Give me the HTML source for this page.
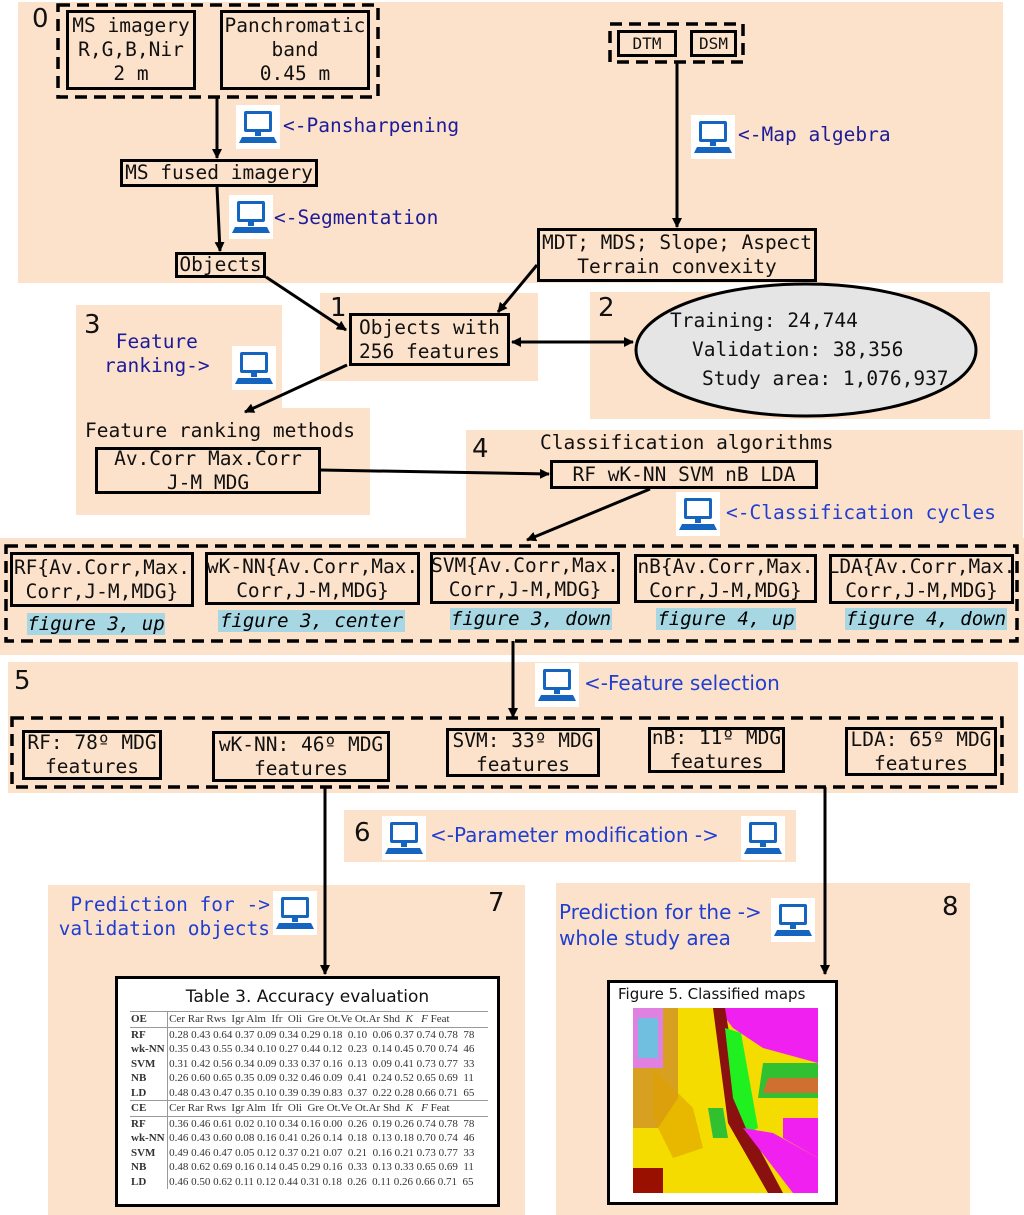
<!DOCTYPE html>
<html><head><meta charset="utf-8"><style>
body{margin:0;width:1024px;height:1215px;position:relative;background:#fff;font-family:"DejaVu Sans Mono","Liberation Mono",monospace;overflow:hidden}
.r{position:absolute;background:#fde2cb}
.b{position:absolute;border:3px solid #000;box-sizing:border-box;display:flex;align-items:center;justify-content:center;text-align:center;font-size:19.5px;line-height:24px;color:#111;background:#fde2cb;white-space:nowrap}
.t{position:absolute;font-size:19.5px;line-height:24px;white-space:nowrap;color:#111}
.n{position:absolute;font-family:"DejaVu Sans",sans-serif;font-size:26px;color:#111}
.bl{position:absolute;background:#a8d7e4;font-style:italic;font-size:19px;line-height:22px;text-align:center;white-space:nowrap}
.nv{color:#1c1c9a}
.sb{font-family:"DejaVu Sans",sans-serif;color:#1f3fd0;font-size:20px}
table{border-collapse:collapse;font-family:"Liberation Serif",serif;font-size:11px;color:#333}
td{padding:0 1px;line-height:14.5px;white-space:nowrap}
</style></head><body>
<div class="r" style="left:18px;top:2px;width:985px;height:281px"></div>
<div class="r" style="left:320px;top:293px;width:218px;height:88px"></div>
<div class="r" style="left:590px;top:292px;width:400px;height:127px"></div>
<div class="r" style="left:76px;top:305px;width:206px;height:210px"></div>
<div class="r" style="left:76px;top:408px;width:294px;height:107px"></div>
<div class="r" style="left:466px;top:430px;width:557px;height:112px"></div>
<div class="r" style="left:0;top:538px;width:1024px;height:117px"></div>
<div class="r" style="left:8px;top:662px;width:1010px;height:131px"></div>
<div class="r" style="left:344px;top:810px;width:452px;height:52px"></div>
<div class="r" style="left:48px;top:885px;width:477px;height:330px"></div>
<div class="r" style="left:556px;top:883px;width:414px;height:332px"></div>

<div class="n" style="left:32px;top:4px">0</div>
<div class="n" style="left:330px;top:293px">1</div>
<div class="n" style="left:598px;top:293px">2</div>
<div class="n" style="left:84px;top:310px">3</div>
<div class="n" style="left:472px;top:434px">4</div>
<div class="n" style="left:14px;top:666px">5</div>
<div class="n" style="left:354px;top:818px">6</div>
<div class="n" style="left:488px;top:888px">7</div>
<div class="n" style="left:942px;top:892px">8</div>

<div class="b" style="left:66px;top:10px;width:130px;height:80px">MS imagery<br>R,G,B,Nir<br>2 m</div>
<div class="b" style="left:220px;top:10px;width:150px;height:80px">Panchromatic<br>band<br>0.45 m</div>
<div class="b" style="left:617px;top:30px;width:60px;height:27px;font-size:16px">DTM</div>
<div class="b" style="left:690px;top:30px;width:47px;height:27px;font-size:16px">DSM</div>
<div class="b" style="left:120px;top:159px;width:198px;height:28px">MS fused imagery</div>
<div class="b" style="left:175px;top:252px;width:91px;height:26px">Objects</div>
<div class="b" style="left:537px;top:228px;width:280px;height:54px">MDT; MDS; Slope; Aspect<br>Terrain convexity</div>
<div class="b" style="left:349px;top:313px;width:161px;height:53px">Objects with<br>256 features</div>
<div class="t" style="left:85px;top:419px">Feature ranking methods</div>
<div class="b" style="left:95px;top:447px;width:226px;height:47px">Av.Corr Max.Corr<br>J-M MDG</div>
<div class="t" style="left:540px;top:431px">Classification algorithms</div>
<div class="b" style="left:550px;top:460px;width:268px;height:29px">RF wK-NN SVM nB LDA</div>

<div class="b" style="left:10px;top:552px;width:184px;height:55px">RF{Av.Corr,Max.<br>Corr,J-M,MDG}</div>
<div class="b" style="left:205px;top:552px;width:215px;height:53px">wK-NN{Av.Corr,Max.<br>Corr,J-M,MDG}</div>
<div class="b" style="left:430px;top:552px;width:190px;height:52px">SVM{Av.Corr,Max.<br>Corr,J-M,MDG}</div>
<div class="b" style="left:634px;top:554px;width:183px;height:49px">nB{Av.Corr,Max.<br>Corr,J-M,MDG}</div>
<div class="b" style="left:829px;top:554px;width:185px;height:50px">LDA{Av.Corr,Max.<br>Corr,J-M,MDG}</div>
<div class="bl" style="left:27px;top:613px;width:138px">figure 3, up</div>
<div class="bl" style="left:218px;top:610px;width:187px">figure 3, center</div>
<div class="bl" style="left:450px;top:608px;width:162px">figure 3, down</div>
<div class="bl" style="left:656px;top:608px;width:140px">figure 4, up</div>
<div class="bl" style="left:845px;top:608px;width:162px">figure 4, down</div>

<div class="b" style="left:22px;top:730px;width:140px;height:50px">RF: 78º MDG<br>features</div>
<div class="b" style="left:212px;top:731px;width:178px;height:51px">wK-NN: 46º MDG<br>features</div>
<div class="b" style="left:446px;top:728px;width:154px;height:49px">SVM: 33º MDG<br>features</div>
<div class="b" style="left:648px;top:727px;width:137px;height:46px">nB: 11º MDG<br>features</div>
<div class="b" style="left:845px;top:727px;width:152px;height:49px">LDA: 65º MDG<br>features</div>

<svg style="position:absolute;left:0;top:0" width="1024" height="1215">
<defs><marker id="a" markerWidth="10" markerHeight="10" refX="9" refY="5" orient="auto" markerUnits="userSpaceOnUse"><path d="M0,0L10,5L0,10z" fill="#000"/></marker>
<marker id="s" markerWidth="10" markerHeight="10" refX="1" refY="5" orient="auto" markerUnits="userSpaceOnUse"><path d="M10,0L0,5L10,10z" fill="#000"/></marker>
<g id="ic"><rect width="44" height="44" fill="#fff"/><rect x="8" y="6" width="28" height="21" rx="2" fill="#1464c0"/><rect x="11" y="9" width="22" height="15" fill="#fff"/><rect x="19" y="27" width="6" height="4" fill="#1464c0"/><path d="M6,32H38L41,38H3z" fill="#1464c0"/></g></defs>
<g fill="none" stroke="#000" stroke-width="3.5" stroke-dasharray="12,7">
<rect x="58" y="5" width="320" height="92"/>
<rect x="610" y="24" width="133" height="38"/>
<rect x="6" y="546" width="1011" height="95"/>
<rect x="12" y="718" width="990" height="69"/>
</g>
<g stroke="#000" stroke-width="3" fill="none" marker-end="url(#a)">
<line x1="217" y1="97" x2="217" y2="158"/>
<line x1="217" y1="187" x2="220" y2="251"/>
<line x1="677" y1="62" x2="677" y2="227"/>
<line x1="266" y1="277" x2="346" y2="330"/>
<line x1="537" y1="265" x2="498" y2="312"/>
<line x1="512" y1="342" x2="633" y2="342" marker-start="url(#s)"/>
<line x1="347" y1="365" x2="245" y2="412"/>
<line x1="321" y1="470" x2="549" y2="474"/>
<line x1="650" y1="489" x2="527" y2="540"/>
<line x1="513" y1="641" x2="513" y2="717"/>
<line x1="325" y1="787" x2="325" y2="974"/>
<line x1="825" y1="787" x2="825" y2="974"/>
</g>
<ellipse cx="806" cy="350" rx="170" ry="66" fill="#e5e5e5" stroke="#000" stroke-width="3"/>
<use href="#ic" x="236" y="105"/><use href="#ic" x="229" y="195"/><use href="#ic" x="691" y="115"/>
<use href="#ic" x="232" y="346"/><use href="#ic" x="676" y="492"/><use href="#ic" x="535" y="663"/>
<use href="#ic" x="382" y="816"/><use href="#ic" x="741" y="816"/><use href="#ic" x="273" y="891"/><use href="#ic" x="771" y="898"/>
</svg>
<div class="t" style="left:670px;top:309px;font-size:19.5px">Training: 24,744</div>
<div class="t" style="left:692px;top:338px;font-size:19.5px">Validation: 38,356</div>
<div class="t" style="left:702px;top:367px;font-size:19.5px">Study area: 1,076,937</div>

<div class="t nv" style="left:283px;top:114px">&lt;-Pansharpening</div>
<div class="t nv" style="left:274px;top:206px">&lt;-Segmentation</div>
<div class="t nv" style="left:738px;top:123px">&lt;-Map algebra</div>
<div class="t nv" style="left:104px;top:330px;text-align:center">Feature<br>ranking-&gt;</div>
<div class="t nv" style="left:726px;top:501px;color:#1f3fd0">&lt;-Classification cycles</div>
<div class="t sb" style="left:584px;top:671px">&lt;-Feature selection</div>
<div class="t sb" style="left:430px;top:823px">&lt;-Parameter modification -&gt;</div>
<div class="t" style="left:40px;top:893px;color:#1f3fd0;text-align:right;width:230px">Prediction for -&gt;<br>validation objects</div>
<div class="t sb" style="left:559px;top:899px;line-height:26px">Prediction for the -&gt;<br>whole study area</div>

<div style="position:absolute;left:115px;top:976px;width:385px;height:231px;border:3px solid #000;box-sizing:border-box;background:#fff">
<div style="font-family:'DejaVu Sans',sans-serif;font-size:17px;text-align:center;margin-top:8px;color:#111">Table 3. Accuracy evaluation</div>
<table style="margin:4px 0 0 12px;width:358px">
<tr style="border-top:1px solid #999"><td style="border-right:1px solid #999"><b>OE</b></td><td>Cer Rar Rws &nbsp;Igr Alm &nbsp;Ifr &nbsp;Oli &nbsp;Gre Ot.Ve Ot.Ar Shd &nbsp;<i>K</i> &nbsp;&nbsp;<i>F</i> Feat</td></tr>
<tr style="border-top:1px solid #999"><td style="border-right:1px solid #999"><b>RF</b></td><td>0.28 0.43 0.64 0.37 0.09 0.34 0.29 0.18 &nbsp;0.10 &nbsp;0.06 0.37 0.74 0.78 &nbsp;78</td></tr>
<tr><td style="border-right:1px solid #999"><b>wk-NN</b></td><td>0.35 0.43 0.55 0.34 0.10 0.27 0.44 0.12 &nbsp;0.23 &nbsp;0.14 0.45 0.70 0.74 &nbsp;46</td></tr>
<tr><td style="border-right:1px solid #999"><b>SVM</b></td><td>0.31 0.42 0.56 0.34 0.09 0.33 0.37 0.16 &nbsp;0.13 &nbsp;0.09 0.41 0.73 0.77 &nbsp;33</td></tr>
<tr><td style="border-right:1px solid #999"><b>NB</b></td><td>0.26 0.60 0.65 0.35 0.09 0.32 0.46 0.09 &nbsp;0.41 &nbsp;0.24 0.52 0.65 0.69 &nbsp;11</td></tr>
<tr><td style="border-right:1px solid #999"><b>LD</b></td><td>0.48 0.43 0.47 0.35 0.10 0.39 0.39 0.83 &nbsp;0.37 &nbsp;0.22 0.28 0.66 0.71 &nbsp;65</td></tr>
<tr style="border-top:1px solid #999"><td style="border-right:1px solid #999"><b>CE</b></td><td>Cer Rar Rws &nbsp;Igr Alm &nbsp;Ifr &nbsp;Oli &nbsp;Gre Ot.Ve Ot.Ar Shd &nbsp;<i>K</i> &nbsp;&nbsp;<i>F</i> Feat</td></tr>
<tr style="border-top:1px solid #999"><td style="border-right:1px solid #999"><b>RF</b></td><td>0.36 0.46 0.61 0.02 0.10 0.34 0.16 0.00 &nbsp;0.26 &nbsp;0.19 0.26 0.74 0.78 &nbsp;78</td></tr>
<tr><td style="border-right:1px solid #999"><b>wk-NN</b></td><td>0.46 0.43 0.60 0.08 0.16 0.41 0.26 0.14 &nbsp;0.18 &nbsp;0.13 0.18 0.70 0.74 &nbsp;46</td></tr>
<tr><td style="border-right:1px solid #999"><b>SVM</b></td><td>0.49 0.46 0.47 0.05 0.12 0.37 0.21 0.07 &nbsp;0.21 &nbsp;0.16 0.21 0.73 0.77 &nbsp;33</td></tr>
<tr><td style="border-right:1px solid #999"><b>NB</b></td><td>0.48 0.62 0.69 0.16 0.14 0.45 0.29 0.16 &nbsp;0.33 &nbsp;0.13 0.33 0.65 0.69 &nbsp;11</td></tr>
<tr><td style="border-right:1px solid #999"><b>LD</b></td><td>0.46 0.50 0.62 0.11 0.12 0.44 0.31 0.18 &nbsp;0.26 &nbsp;0.11 0.26 0.66 0.71 &nbsp;65</td></tr>
</table></div>

<div style="position:absolute;left:607px;top:980px;width:231px;height:225px;border:3px solid #000;box-sizing:border-box;background:#fff">
<div style="font-family:'DejaVu Sans',sans-serif;font-size:15px;margin:2px 0 0 8px;color:#111">Figure 5. Classified maps</div>
<svg style="position:absolute;left:23px;top:25px" width="185" height="185">
<rect width="185" height="185" fill="#f5dc00"/>
<path d="M0,0H45V90L25,120L0,120z" fill="#d8a020"/>
<path d="M0,0H30V60H0z" fill="#e080e0"/>
<path d="M5,10H25V50H5z" fill="#40d8e0" opacity="0.7"/>
<path d="M85,0H185V55L130,40L100,20z" fill="#f020f0"/>
<path d="M130,55H185V90H125z" fill="#30c030"/>
<path d="M135,70H185V85H130z" fill="#d07030"/>
<path d="M80,0L92,0L110,110L150,185H135L95,115z" fill="#8b1010"/>
<path d="M92,20L108,25L125,120L115,125L100,90z" fill="#20f020"/>
<path d="M110,120L140,125L185,150V185H160z" fill="#f020f0"/>
<path d="M150,110H185V150L150,130z" fill="#f020f0"/>
<path d="M0,160H30V185H0z" fill="#9a1000"/>
<path d="M30,160H50V185H30z" fill="#f5dc00"/>
<path d="M75,100L90,100L95,130L80,130z" fill="#30c030"/>
<path d="M20,60L60,100L70,140L40,150L20,110z" fill="#e0a000" opacity="0.6"/>
</svg></div>
</body></html>
